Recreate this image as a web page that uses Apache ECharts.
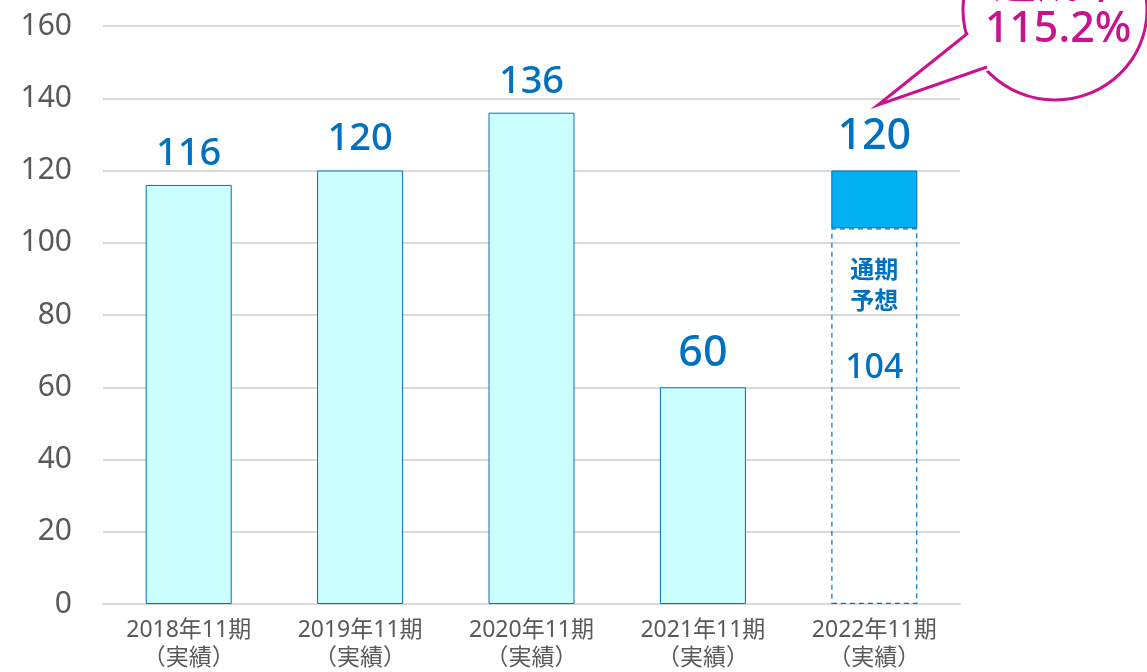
<!DOCTYPE html>
<html><head><meta charset="utf-8">
<script src="https://cdn.jsdelivr.net/npm/echarts@6/dist/echarts.min.js"></script>
<style>html,body{margin:0;padding:0;background:#fff;}#c{width:1147px;height:672px;}</style>
</head><body><div id="c"></div>
<script>
const categories = ['2018年11期\n（実績）','2019年11期\n（実績）','2020年11期\n（実績）','2021年11期\n（実績）','2022年11期\n（実績）'];
const actualValues = [116, 120, 136, 60, '-'];
const forecastValues = ['-', '-', '-', '-', 104];
const excessValues = ['-', '-', '-', '-', 16];
const totalLabels = [116, 120, 136, 60, 120];
const yTicks = {min: 0, max: 160, interval: 20};
const calloutText = ['達成率', '115.2%'];

const FONT = "'Noto Sans', 'Noto Sans CJK JP', sans-serif";
const BLUE = '#0070c0';
const MAG = '#c8128e';
const bigLabel = [false, false, false, true, true];
const labelRich = {
  n: {fontSize: 38, fontWeight: 500, color: BLUE, fontFamily: FONT},
  b: {fontSize: 43, fontWeight: 500, color: BLUE, fontFamily: FONT}
};
const topLabelFmt = p => '{' + (bigLabel[p.dataIndex] ? 'b' : 'n') + '|' + totalLabels[p.dataIndex] + '}';

const chart = echarts.init(document.getElementById('c'));
chart.setOption({
  animation: false,
  textStyle: {fontFamily: FONT},
  grid: {left: 103, right: 187, top: 26, bottom: 66, containLabel: false},
  xAxis: {
    type: 'category', data: categories,
    axisLine: {show: true, lineStyle: {color: '#d9d9d9', width: 2}},
    axisTick: {show: false},
    axisLabel: {fontSize: 23, color: '#595959', lineHeight: 28, margin: 12, fontFamily: FONT}
  },
  yAxis: {
    type: 'value', min: yTicks.min, max: yTicks.max, interval: yTicks.interval,
    axisLine: {show: false}, axisTick: {show: false},
    axisLabel: {fontSize: 30, color: '#595959', margin: 31, fontFamily: FONT},
    splitLine: {lineStyle: {color: '#d9d9d9', width: 2}}
  },
  series: [
    {
      type: 'bar', stack: 'a', data: actualValues, barWidth: 86,
      itemStyle: {color: '#ccffff', borderColor: BLUE, borderWidth: 1},
      label: {show: true, position: 'top', distance: 12, formatter: topLabelFmt, rich: labelRich}
    },
    {
      type: 'bar', stack: 'a', data: forecastValues, barWidth: 86,
      itemStyle: {color: 'rgba(255,255,255,0)', borderColor: BLUE, borderWidth: 1.2, borderType: [5, 4]},
      label: {show: true, position: 'insideTop', distance: 25,
        formatter: p => '{t|通期}\n{t|予想}\n{s| }\n{v|' + p.value + '}',
        rich: {
          t: {fontSize: 24, fontWeight: 'bold', color: BLUE, lineHeight: 31, fontFamily: "'Noto Sans CJK JP', sans-serif"},
          s: {fontSize: 10, lineHeight: 33},
          v: {fontSize: 34, fontWeight: 500, color: BLUE, lineHeight: 40, fontFamily: FONT}
        }}
    },
    {
      type: 'bar', stack: 'a', data: excessValues, barWidth: 86,
      itemStyle: {color: '#00b0f0', borderColor: BLUE, borderWidth: 1},
      label: {show: true, position: 'top', distance: 12, formatter: topLabelFmt, rich: labelRich}
    }
  ],
  graphic: [
    {type: 'ellipse', shape: {cx: 1055, cy: 10, rx: 92, ry: 90}, z: 10,
      style: {fill: '#fff', stroke: MAG, lineWidth: 3}},
    {type: 'polygon', shape: {points: [[973, 30], [878, 105], [990, 70], [1000, 50]]}, z: 11,
      style: {fill: '#fff', stroke: null}},
    {type: 'polyline', shape: {points: [[968, 33], [878, 105], [987, 67]]}, z: 12,
      style: {fill: null, stroke: MAG, lineWidth: 3, lineJoin: 'miter'}},
    {type: 'text', x: 1058, y: 8, z: 13,
      style: {text: calloutText.join('\n'), fill: MAG, fontSize: 43, fontWeight: 500, fontFamily: FONT,
        lineHeight: 44, align: 'center', verticalAlign: 'middle'}}
  ]
});
</script></body></html>
